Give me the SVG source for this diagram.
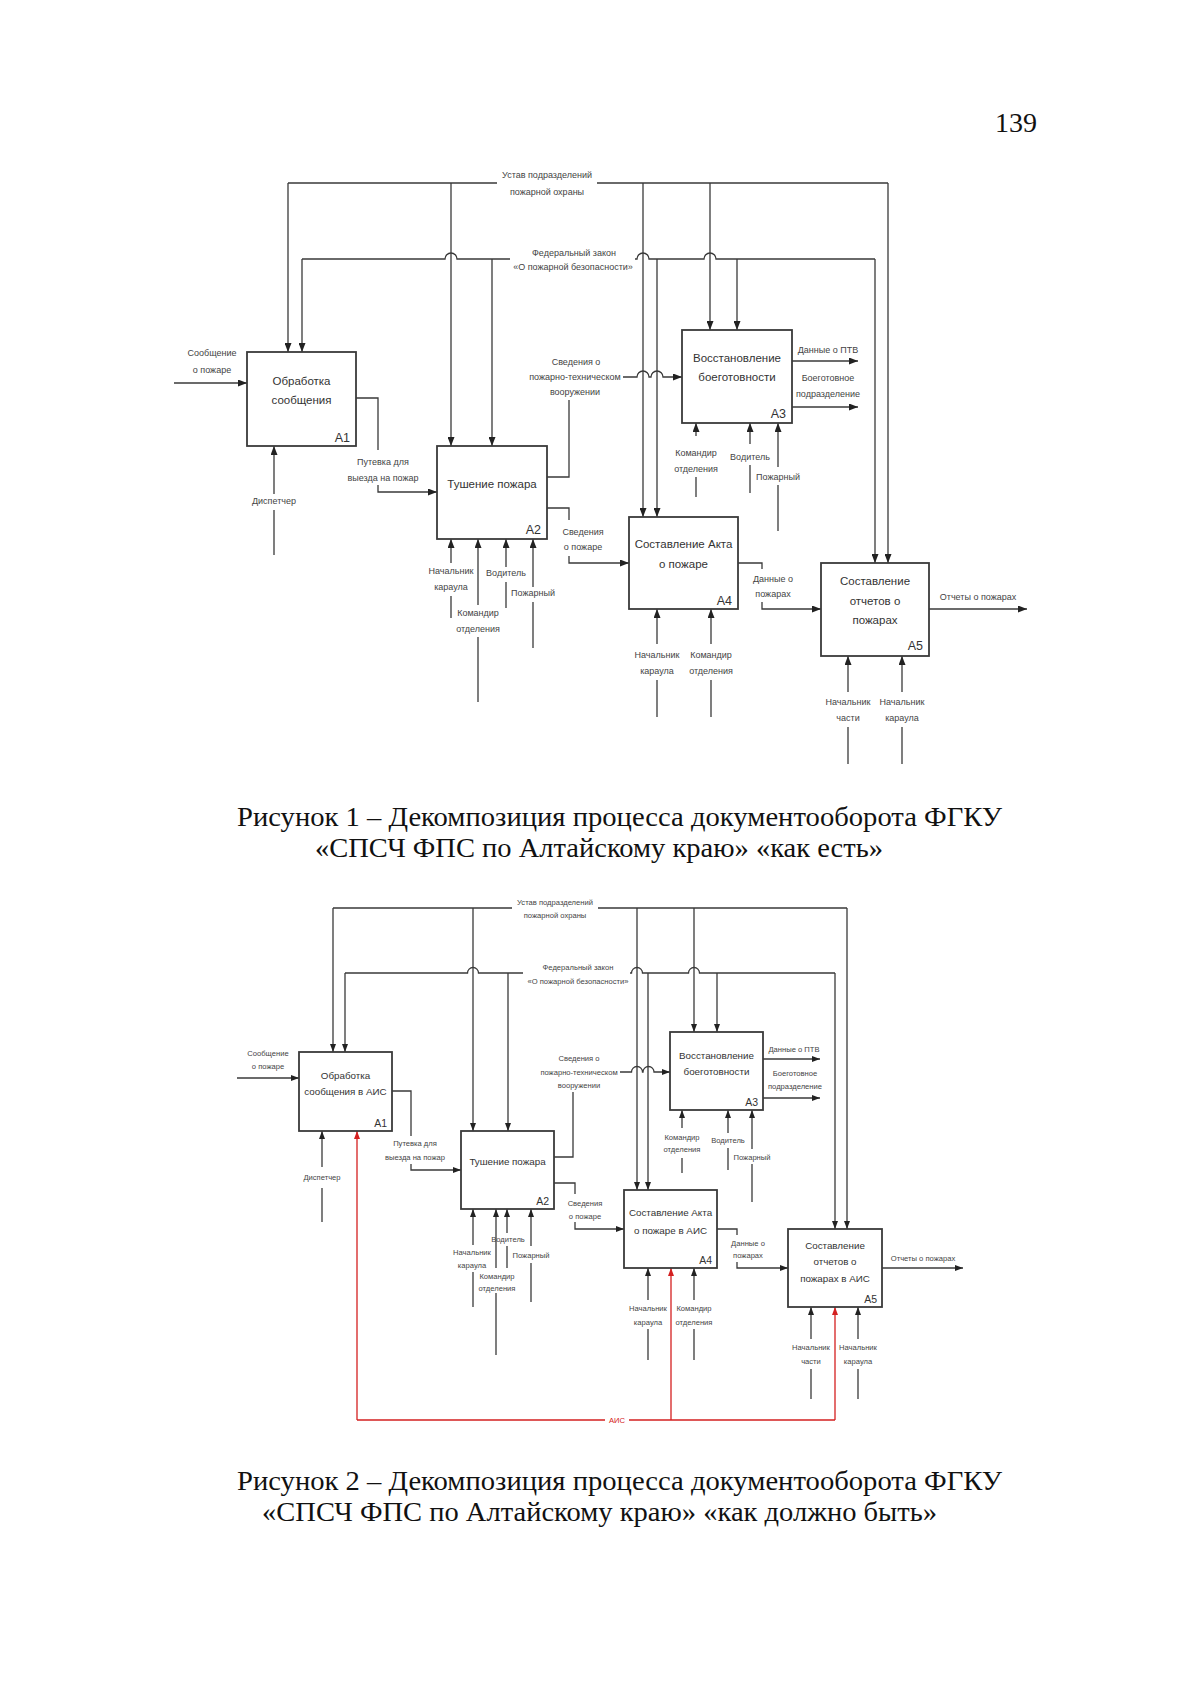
<svg xmlns="http://www.w3.org/2000/svg" width="1200" height="1703" viewBox="0 0 1200 1703">
<defs>
<marker id="ah" markerUnits="userSpaceOnUse" markerWidth="9" markerHeight="7" refX="9" refY="3.5" orient="auto"><path d="M0,0 L9,3.5 L0,7 z" fill="#222"/></marker>
<marker id="ah2" markerUnits="userSpaceOnUse" markerWidth="8" markerHeight="6" refX="8" refY="3" orient="auto"><path d="M0,0 L8,3 L0,6 z" fill="#222"/></marker>
<marker id="ahr" markerUnits="userSpaceOnUse" markerWidth="8" markerHeight="6" refX="8" refY="3" orient="auto"><path d="M0,0 L8,3 L0,6 z" fill="#d42020"/></marker>
</defs>
<style>
.box{fill:#fff;stroke:#3a3a3a;stroke-width:1.8}
.ln{fill:none;stroke:#3a3a3a;stroke-width:1.3}
.a1{marker-end:url(#ah)}
.a2{marker-end:url(#ah2)}
.red{fill:none;stroke:#d42020;stroke-width:1.3}
.ar{marker-end:url(#ahr)}
.t1{font-family:"Liberation Sans",Arial,sans-serif;font-size:11.5px;fill:#333;text-anchor:middle}
.id1{font-family:"Liberation Sans",Arial,sans-serif;font-size:12.5px;fill:#333;text-anchor:end}
.l1{font-family:"Liberation Sans",Arial,sans-serif;font-size:9px;fill:#444;text-anchor:middle}
.t2{font-family:"Liberation Sans",Arial,sans-serif;font-size:9.8px;fill:#333;text-anchor:middle}
.id2{font-family:"Liberation Sans",Arial,sans-serif;font-size:10.5px;fill:#333;text-anchor:end}
.l2{font-family:"Liberation Sans",Arial,sans-serif;font-size:7.6px;fill:#444;text-anchor:middle}
.lr{font-family:"Liberation Sans",Arial,sans-serif;font-size:7.6px;fill:#d42020;text-anchor:middle}
.cap{font-family:"Liberation Serif","Times New Roman",serif;font-size:28px;fill:#111}
</style>
<rect width="1200" height="1703" fill="#fff"/>
<text class="cap" x="995" y="132">139</text>

<!-- ================= FIGURE 1 ================= -->
<g id="fig1-connectors">
  <!-- Устав -->
  <path class="ln" d="M288,183 H497 M597,183 H888"/>
  <path class="ln a1" d="M288,183 V352"/>
  <path class="ln a1" d="M451,183 V446"/>
  <path class="ln a1" d="M643,183 V517"/>
  <path class="ln a1" d="M710,183 V330"/>
  <path class="ln a1" d="M888,183 V563"/>
  <!-- Федеральный закон -->
  <path class="ln" d="M302,259 H445 a6,6 0 0 1 12,0 H510 M635,259 H637 a6,6 0 0 1 12,0 H704 a6,6 0 0 1 12,0 H875"/>
  <path class="ln a1" d="M302,259 V352"/>
  <path class="ln a1" d="M492,259 V446"/>
  <path class="ln a1" d="M657,259 V517"/>
  <path class="ln a1" d="M737,259 V330"/>
  <path class="ln a1" d="M875,259 V563"/>
  <!-- inputs / outputs -->
  <path class="ln a1" d="M174,383 H247"/>
  <path class="ln" d="M356,398 H378 V450"/>
  <path class="ln a1" d="M378,485 V492 H437"/>
  <path class="ln" d="M547,477 H569 V400"/>
  <path class="ln a1" d="M623,377 H637 a6,6 0 0 1 12,0 H651 a6,6 0 0 1 12,0 H682"/>
  <path class="ln" d="M547,508 H569 V520"/>
  <path class="ln a1" d="M569,556 V563 H629"/>
  <path class="ln a1" d="M792,361 H858"/>
  <path class="ln a1" d="M792,407 H858"/>
  <path class="ln" d="M738,563 H762 V569"/>
  <path class="ln a1" d="M762,602 V609 H821"/>
  <path class="ln a1" d="M929,609 H1027"/>
  <!-- mechanisms -->
  <path class="ln" d="M274,555 V510"/><path class="ln a1" d="M274,494 V446"/>
  <path class="ln" d="M451,618 V596"/><path class="ln a1" d="M451,563 V539"/>
  <path class="ln" d="M478,702 V637"/><path class="ln a1" d="M478,605 V539"/>
  <path class="ln" d="M506,608 V582"/><path class="ln a1" d="M506,567 V539"/>
  <path class="ln" d="M533,648 V602"/><path class="ln a1" d="M533,587 V539"/>
  <path class="ln" d="M696,497 V477"/><path class="ln a1" d="M696,436 V423"/>
  <path class="ln" d="M750,493 V465"/><path class="ln a1" d="M750,444 V423"/>
  <path class="ln" d="M778,531 V485"/><path class="ln a1" d="M778,467 V423"/>
  <path class="ln" d="M657,717 V680"/><path class="ln a1" d="M657,644 V609"/>
  <path class="ln" d="M711,717 V680"/><path class="ln a1" d="M711,644 V609"/>
  <path class="ln" d="M848,764 V727"/><path class="ln a1" d="M848,692 V656"/>
  <path class="ln" d="M902,764 V727"/><path class="ln a1" d="M902,692 V656"/>
</g>
<g id="fig1-labels">
  <text class="l1" x="547" y="178">Устав подразделений</text>
  <text class="l1" x="547" y="195">пожарной охраны</text>
  <text class="l1" x="574" y="256">Федеральный закон</text>
  <text class="l1" x="573" y="270">«О пожарной безопасности»</text>
  <text class="l1" x="212" y="356">Сообщение</text>
  <text class="l1" x="212" y="373">о пожаре</text>
  <text class="l1" x="383" y="465">Путевка для</text>
  <text class="l1" x="383" y="481">выезда на пожар</text>
  <text class="l1" x="274" y="504">Диспетчер</text>
  <text class="l1" x="576" y="365">Сведения о</text>
  <text class="l1" x="575" y="380">пожарно-техническом</text>
  <text class="l1" x="575" y="395">вооружении</text>
  <text class="l1" x="583" y="535">Сведения</text>
  <text class="l1" x="583" y="550">о пожаре</text>
  <text class="l1" x="451" y="574">Начальник</text>
  <text class="l1" x="451" y="590">караула</text>
  <text class="l1" x="478" y="616">Командир</text>
  <text class="l1" x="478" y="632">отделения</text>
  <text class="l1" x="506" y="576">Водитель</text>
  <text class="l1" x="533" y="596">Пожарный</text>
  <text class="l1" x="696" y="456">Командир</text>
  <text class="l1" x="696" y="472">отделения</text>
  <text class="l1" x="750" y="460">Водитель</text>
  <text class="l1" x="778" y="480">Пожарный</text>
  <text class="l1" x="828" y="352.5">Данные о ПТВ</text>
  <text class="l1" x="828" y="381">Боеготовное</text>
  <text class="l1" x="828" y="396.5">подразделение</text>
  <text class="l1" x="773" y="581.5">Данные о</text>
  <text class="l1" x="773" y="596.5">пожарах</text>
  <text class="l1" x="657" y="658">Начальник</text>
  <text class="l1" x="657" y="674">караула</text>
  <text class="l1" x="711" y="658">Командир</text>
  <text class="l1" x="711" y="674">отделения</text>
  <text class="l1" x="978" y="600">Отчеты о пожарах</text>
  <text class="l1" x="848" y="705">Начальник</text>
  <text class="l1" x="848" y="721">части</text>
  <text class="l1" x="902" y="705">Начальник</text>
  <text class="l1" x="902" y="721">караула</text>
</g>
<g id="fig1-A1">
  <rect class="box" x="247" y="352" width="109" height="94"/>
  <text class="t1" x="301.5" y="384.5">Обработка</text>
  <text class="t1" x="301.5" y="404">сообщения</text>
  <text class="id1" x="350" y="442">A1</text>
</g>
<g id="fig1-A2">
  <rect class="box" x="437" y="446" width="110" height="93"/>
  <text class="t1" x="492" y="487.5">Тушение пожара</text>
  <text class="id1" x="541" y="534">A2</text>
</g>
<g id="fig1-A3">
  <rect class="box" x="682" y="330" width="110" height="93"/>
  <text class="t1" x="737" y="361.5">Восстановление</text>
  <text class="t1" x="737" y="381">боеготовности</text>
  <text class="id1" x="786" y="418">A3</text>
</g>
<g id="fig1-A4">
  <rect class="box" x="629" y="517" width="109" height="92"/>
  <text class="t1" x="683.5" y="547.5">Составление Акта</text>
  <text class="t1" x="683.5" y="567.5">о пожаре</text>
  <text class="id1" x="732" y="605">A4</text>
</g>
<g id="fig1-A5">
  <rect class="box" x="821" y="563" width="108" height="93"/>
  <text class="t1" x="875" y="585">Составление</text>
  <text class="t1" x="875" y="605">отчетов о</text>
  <text class="t1" x="875" y="624">пожарах</text>
  <text class="id1" x="923" y="650">A5</text>
</g>
<g id="caption1">
  <text class="cap" x="237" y="826" textLength="765" lengthAdjust="spacingAndGlyphs">Рисунок 1 – Декомпозиция процесса документооборота ФГКУ</text>
  <text class="cap" x="315" y="857" textLength="568" lengthAdjust="spacingAndGlyphs">«СПСЧ ФПС по Алтайскому краю» «как есть»</text>
</g>

<!-- ================= FIGURE 2 ================= -->
<g id="fig2-connectors">
  <path class="ln" d="M333,908 H512 M598,908 H847"/>
  <path class="ln a2" d="M333,908 V1052"/>
  <path class="ln a2" d="M473,908 V1131"/>
  <path class="ln a2" d="M637,908 V1190"/>
  <path class="ln a2" d="M694,908 V1032"/>
  <path class="ln a2" d="M847,908 V1229"/>
  <path class="ln" d="M345,973 H467.5 a5.5,5.5 0 0 1 11,0 H523 M630,973 H631.5 a5.5,5.5 0 0 1 11,0 H688.5 a5.5,5.5 0 0 1 11,0 H835"/>
  <path class="ln a2" d="M345,973 V1052"/>
  <path class="ln a2" d="M508,973 V1131"/>
  <path class="ln a2" d="M648,973 V1190"/>
  <path class="ln a2" d="M717,973 V1032"/>
  <path class="ln a2" d="M835,973 V1229"/>
  <path class="ln a2" d="M237,1078 H299"/>
  <path class="ln" d="M392,1091 H411 V1136"/>
  <path class="ln a2" d="M411,1164 V1170 H461"/>
  <path class="ln" d="M554,1157 H573 V1092"/>
  <path class="ln a2" d="M620,1072 H631.5 a5.5,5.5 0 0 1 11,0 H643 a5.5,5.5 0 0 1 11,0 H670"/>
  <path class="ln" d="M554,1183 H575 V1194"/>
  <path class="ln a2" d="M575,1222 V1229 H624"/>
  <path class="ln a2" d="M763,1059 H820"/>
  <path class="ln a2" d="M763,1098 H820"/>
  <path class="ln" d="M717,1229 H737 V1235"/>
  <path class="ln a2" d="M737,1262 V1268 H788"/>
  <path class="ln a2" d="M882,1268 H963"/>
  <path class="ln" d="M322,1222 V1188"/><path class="ln a2" d="M322,1167 V1131"/>
  <path class="ln" d="M473,1307 V1272"/><path class="ln a2" d="M473,1245 V1209"/>
  <path class="ln" d="M496,1355 V1293"/><path class="ln a2" d="M496,1268 V1209"/>
  <path class="ln" d="M507,1268 V1246"/><path class="ln a2" d="M507,1233 V1209"/>
  <path class="ln" d="M531,1302 V1263"/><path class="ln a2" d="M531,1246 V1209"/>
  <path class="ln" d="M682,1173 V1158"/><path class="ln a2" d="M682,1128 V1110"/>
  <path class="ln" d="M728,1170 V1148"/><path class="ln a2" d="M728,1133 V1110"/>
  <path class="ln" d="M752,1202 V1164"/><path class="ln a2" d="M752,1149 V1110"/>
  <path class="ln" d="M648,1360 V1329"/><path class="ln a2" d="M648,1300 V1268"/>
  <path class="ln" d="M694,1360 V1329"/><path class="ln a2" d="M694,1300 V1268"/>
  <path class="ln" d="M811,1399 V1369"/><path class="ln a2" d="M811,1339 V1307"/>
  <path class="ln" d="M858,1399 V1369"/><path class="ln a2" d="M858,1339 V1307"/>
  <!-- АИС -->
  <path class="red ar" d="M357,1420 V1131"/>
  <path class="red" d="M357,1420 H605 M629,1420 H835"/>
  <path class="red ar" d="M671,1420 V1268"/>
  <path class="red ar" d="M835,1420 V1307"/>
</g>
<g id="fig2-labels">
  <text class="l2" x="555" y="905">Устав подразделений</text>
  <text class="l2" x="555" y="918">пожарной охраны</text>
  <text class="l2" x="578" y="970">Федеральный закон</text>
  <text class="l2" x="578" y="984">«О пожарной безопасности»</text>
  <text class="l2" x="268" y="1055.5">Сообщение</text>
  <text class="l2" x="268" y="1069">о пожаре</text>
  <text class="l2" x="415" y="1146">Путевка для</text>
  <text class="l2" x="415" y="1159.5">выезда на пожар</text>
  <text class="l2" x="322" y="1179.5">Диспетчер</text>
  <text class="l2" x="579" y="1061">Сведения о</text>
  <text class="l2" x="579" y="1074.5">пожарно-техническом</text>
  <text class="l2" x="579" y="1088">вооружении</text>
  <text class="l2" x="585" y="1205.5">Сведения</text>
  <text class="l2" x="585" y="1219">о пожаре</text>
  <text class="l2" x="472" y="1254.5">Начальник</text>
  <text class="l2" x="472" y="1268">караула</text>
  <text class="l2" x="497" y="1279">Командир</text>
  <text class="l2" x="497" y="1290.5">отделения</text>
  <text class="l2" x="508" y="1242">Водитель</text>
  <text class="l2" x="531" y="1258">Пожарный</text>
  <text class="l2" x="682" y="1139.5">Командир</text>
  <text class="l2" x="682" y="1152">отделения</text>
  <text class="l2" x="728" y="1143">Водитель</text>
  <text class="l2" x="752" y="1159.5">Пожарный</text>
  <text class="l2" x="794" y="1052">Данные о ПТВ</text>
  <text class="l2" x="795" y="1076">Боеготовное</text>
  <text class="l2" x="795" y="1089">подразделение</text>
  <text class="l2" x="748" y="1245.5">Данные о</text>
  <text class="l2" x="748" y="1258">пожарах</text>
  <text class="l2" x="648" y="1311">Начальник</text>
  <text class="l2" x="648" y="1324.5">караула</text>
  <text class="l2" x="694" y="1311">Командир</text>
  <text class="l2" x="694" y="1324.5">отделения</text>
  <text class="l2" x="923" y="1261">Отчеты о пожарах</text>
  <text class="l2" x="811" y="1349.5">Начальник</text>
  <text class="l2" x="811" y="1364">части</text>
  <text class="l2" x="858" y="1349.5">Начальник</text>
  <text class="l2" x="858" y="1364">караула</text>
  <text class="lr" x="617" y="1423">АИС</text>
</g>
<g id="fig2-A1">
  <rect class="box" x="299" y="1052" width="93" height="79"/>
  <text class="t2" x="345.5" y="1078.5">Обработка</text>
  <text class="t2" x="345.5" y="1095">сообщения в АИС</text>
  <text class="id2" x="387" y="1127">A1</text>
</g>
<g id="fig2-A2">
  <rect class="box" x="461" y="1131" width="93" height="78"/>
  <text class="t2" x="507.5" y="1165">Тушение пожара</text>
  <text class="id2" x="549" y="1205">A2</text>
</g>
<g id="fig2-A3">
  <rect class="box" x="670" y="1032" width="93" height="78"/>
  <text class="t2" x="716.5" y="1058.5">Восстановление</text>
  <text class="t2" x="716.5" y="1075">боеготовности</text>
  <text class="id2" x="758" y="1106">A3</text>
</g>
<g id="fig2-A4">
  <rect class="box" x="624" y="1190" width="93" height="78"/>
  <text class="t2" x="670.5" y="1216">Составление Акта</text>
  <text class="t2" x="670.5" y="1233.5">о пожаре в АИС</text>
  <text class="id2" x="712" y="1264">A4</text>
</g>
<g id="fig2-A5">
  <rect class="box" x="788" y="1229" width="94" height="78"/>
  <text class="t2" x="835" y="1248.5">Составление</text>
  <text class="t2" x="835" y="1265">отчетов о</text>
  <text class="t2" x="835" y="1282">пожарах в АИС</text>
  <text class="id2" x="877" y="1303">A5</text>
</g>
<g id="caption2">
  <text class="cap" x="237" y="1490" textLength="765" lengthAdjust="spacingAndGlyphs">Рисунок 2 – Декомпозиция процесса документооборота ФГКУ</text>
  <text class="cap" x="262" y="1521" textLength="675" lengthAdjust="spacingAndGlyphs">«СПСЧ ФПС по Алтайскому краю» «как должно быть»</text>
</g>
</svg>
